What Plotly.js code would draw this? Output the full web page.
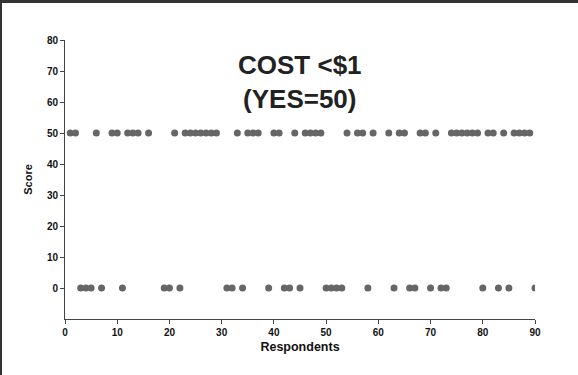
<!DOCTYPE html>
<html><head><meta charset="utf-8">
<script src="https://cdn.plot.ly/plotly-3.0.1.min.js"></script>
<style>
html,body{margin:0;padding:0;background:#fff;}
#frame{position:absolute;left:0;top:0;width:576px;height:372px;border-top:3px solid #333;border-left:2px solid #333;pointer-events:none;}
#chart{position:absolute;left:0;top:0;width:578px;height:375px;}
</style></head>
<body>
<div id="chart"></div>
<div id="frame"></div>
<script>
// Respondents answering YES (score 50)
const yesRespondents = [1,2,6,9,10,12,13,14,16,21,23,24,25,26,27,28,29,33,35,36,37,40,41,44,46,47,48,49,54,56,57,59,62,64,65,68,69,71,74,75,76,77,78,79,81,82,84,86,87,88,89];
const yesScore = 50;
// Respondents answering NO (score 0)
const noRespondents = [3,4,5,7,11,19,20,22,31,32,34,39,42,43,45,50,51,52,53,58,63,66,67,70,72,73,80,83,85,90];
const noScore = 0;
const xTicks = [0,10,20,30,40,50,60,70,80,90];
const yTicks = [0,10,20,30,40,50,60,70,80];
const chartTitle = 'COST &lt;$1<br>(YES=50)';

const font = 'Liberation Sans, Arial, sans-serif';
const marker = {color:'#666666', size:7, line:{width:0}};
const traces = [
  {x: yesRespondents, y: yesRespondents.map(()=>yesScore), mode:'markers', type:'scatter', marker: marker, hoverinfo:'x+y'},
  {x: noRespondents, y: noRespondents.map(()=>noScore), mode:'markers', type:'scatter', marker: marker, hoverinfo:'x+y'}
];
const layout = {
  width:578, height:375,
  margin:{l:65, r:43, t:40, b:56},
  paper_bgcolor:'#ffffff', plot_bgcolor:'#ffffff',
  showlegend:false,
  font:{family:font, color:'#000'},
  xaxis:{range:[0,90], tickvals:xTicks, ticktext:xTicks.map(String), showgrid:false, zeroline:false,
    showline:true, linecolor:'#444', linewidth:1, ticks:'outside', ticklen:4, tickcolor:'#444',
    tickfont:{family:font, size:10, weight:'bold', color:'#111'},
    title:{text:'Respondents', font:{family:font, size:12.5, weight:'bold', color:'#111'}, standoff:5}},
  yaxis:{range:[-10,80], tickvals:yTicks, ticktext:yTicks.map(String), showgrid:false, zeroline:false,
    showline:true, linecolor:'#444', linewidth:1, ticks:'outside', ticklen:4, tickcolor:'#444',
    tickfont:{family:font, size:10, weight:'bold', color:'#111'},
    title:{text:'Score', font:{family:font, size:11, weight:'bold', color:'#111'}, standoff:12}},
  annotations:[{text:chartTitle, xref:'paper', yref:'paper', x:0.5, y:0.85, xanchor:'center', yanchor:'middle',
    showarrow:false, font:{family:font, size:26, weight:'bold', color:'#222'}}]
};
Plotly.newPlot('chart', traces, layout, {displayModeBar:false, staticPlot:true});
</script>
</body></html>
